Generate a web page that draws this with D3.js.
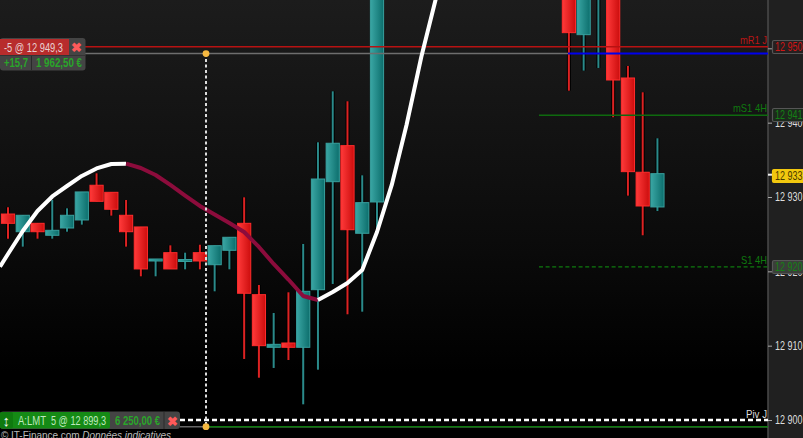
<!DOCTYPE html>
<html><head><meta charset="utf-8">
<script src="https://cdn.jsdelivr.net/npm/d3@7"></script>
<style>html,body{margin:0;padding:0;background:#000;overflow:hidden}svg{display:block}text{font-family:"Liberation Sans",Arial,sans-serif}</style>
</head><body><svg id="c" width="803" height="438"></svg>
<script>
// Prices are expressed as points above 12 900
const base = 12900;
const candleIndex = [0,1,2,3,4,5,6,7,8,9,10,11,12,13,14,15,16,17,18,19,20,21,22,23,24,25,38,39,40,41,42,43,44];
const opens  = [27.71,25.33,26.46,24.85,25.83,26.91,31.58,30.63,27.54,25.97,21.39,22.51,21.39,22.51,20.89,22.83,26.46,16.86,9.78,10.36,9.78,17.53,32.06,36.91,25.12,29.33,60,51.84,57.5,60,46.01,33.33,28.66];
const highs  = [28.62,27.54,26.46,29.60,28.48,30.68,33.19,30.63,29.60,25.97,21.66,23.50,22.51,23.58,23.45,24.58,29.96,18.16,14.40,17.18,23.68,37.36,44.22,42.88,32.92,62,60,60,60,60,47.63,44.09,37.90];
const lows   = [24.39,23.32,24.39,24.39,25.33,26.28,29.42,27.49,23.32,19.33,19.33,20.32,20.27,20.27,17.31,20.27,8.21,5.69,7.00,8.07,2.11,6.77,18.30,14.22,14.57,25.43,44.30,47.00,47.36,40.73,30.18,24.85,28.12];
const closes = [26.46,27.54,25.33,25.52,27.54,30.68,29.42,28.35,25.33,20.32,21.66,20.32,21.59,21.39,23.45,24.58,17.05,10.00,10.18,9.78,17.31,32.42,37.23,25.60,29.24,62,52.11,60,60,45.74,33.41,28.79,33.14];

const maIndex  = [-0.54,0,1,2,3,4,5,6,7,8,9,10,11,12,13,14,15,16,17,18,19,20,21,22,23,24,25,26,27,28,29];
const maValues = [20.62,22.33,25.43,28.12,30.07,31.48,32.83,33.84,34.44,34.48,33.90,32.96,31.62,30.20,28.79,27.65,26.50,25.29,23.28,20.99,18.90,16.68,16.14,17.22,18.43,20.18,25.29,31.62,39.69,48.84,56.78];
const maTurns  = [-0.54,8,21,29]; // rising, falling, rising

const axisTicks = [12900,12910,12920,12930,12940,12950];
const levelNames  = ["mR1 J","mS1 4H","S1 4H","Piv J"];
const levelPrices = [12950.2,12941.0,12920.6,12900.0];
const positionPrice = 12949.3, orderPrice = 12899.1, lastPrice = 12933;
const fmt = v => { const s = String(Math.floor(v)); return s.slice(0,2)+" "+s.slice(2); };

const svg = d3.select("#c");
const W=803,H=438,axisX=768;
const x = d3.scaleLinear().domain([0,1]).range([8,22.76]);
const y = d3.scaleLinear().domain([base,base+30]).range([420,197]);

const defs = svg.append("defs");
const bg = defs.append("linearGradient").attr("id","bg").attr("x1",0).attr("x2",0).attr("y1",0).attr("y2",1);
bg.append("stop").attr("offset",0).attr("stop-color","#1c1c1c");
bg.append("stop").attr("offset",.55).attr("stop-color","#0b0b0b");
bg.append("stop").attr("offset",.85).attr("stop-color","#000");
const grad=(id,a,b)=>{const g=defs.append("linearGradient").attr("id",id);g.append("stop").attr("offset",0).attr("stop-color",a);g.append("stop").attr("offset",1).attr("stop-color",b);};
grad("gr","#ff3a3a","#cc0d0d"); grad("gt","#3aa6a4","#0c6e6c");
defs.append("clipPath").attr("id","plot").append("rect").attr("width",axisX).attr("height",H);

svg.append("rect").attr("width",W).attr("height",H).attr("fill","url(#bg)");
svg.append("rect").attr("x",axisX).attr("width",W-axisX).attr("height",H).attr("fill","#202020");
svg.append("line").attr("x1",axisX).attr("x2",axisX).attr("y1",0).attr("y2",H).attr("stroke","#4a4a4a").attr("stroke-width",1.5);

const plot = svg.append("g").attr("clip-path","url(#plot)");
const data = candleIndex.map((i,k)=>({i,o:opens[k],h:highs[k],l:lows[k],c:closes[k],up:closes[k]>=opens[k]}));
const px = v => y(base+v);

const wick = plot.selectAll(".w").data(data).join("g");
wick.append("line").attr("x1",d=>x(d.i)).attr("x2",d=>x(d.i)).attr("y1",d=>px(d.h)).attr("y2",d=>px(d.l)).attr("stroke","#000").attr("stroke-width",4);
wick.append("line").attr("x1",d=>x(d.i)).attr("x2",d=>x(d.i)).attr("y1",d=>px(d.h)).attr("y2",d=>px(d.l)).attr("stroke",d=>d.up?"#2a8a8a":"#dd2222").attr("stroke-width",2);
plot.selectAll(".b").data(data).join("rect")
  .attr("x",d=>x(d.i)-6.6).attr("width",13.2)
  .attr("y",d=>px(Math.max(d.o,d.c))).attr("height",d=>Math.max(2,Math.abs(px(d.o)-px(d.c))))
  .attr("fill",d=>d.up?"url(#gt)":"url(#gr)")
  .attr("stroke",d=>d.up?"#38a09e":"#ff2c2c").attr("stroke-width",1);

// Levels
const L = (v,x0,col,w,dash)=>plot.append("line").attr("x1",x0).attr("x2",axisX).attr("y1",y(v)).attr("y2",y(v)).attr("stroke",col).attr("stroke-width",w).attr("stroke-dasharray",dash||null);
L(levelPrices[0],0,"#b81212",1.5);
plot.append("line").attr("x1",0).attr("x2",568).attr("y1",y(positionPrice)).attr("y2",y(positionPrice)).attr("stroke","#6e6e6e").attr("stroke-width",1.5);
L(positionPrice,568,"#0000ee",2);
L(levelPrices[1],539,"#0e6a0e",1.5);
L(levelPrices[2],539,"#0e7a0e",1.4,"4,2.6");
plot.append("line").attr("x1",180).attr("x2",axisX).attr("y1",y(orderPrice)).attr("y2",y(orderPrice)).attr("stroke","#666").attr("stroke-width",1.5);
L(orderPrice,206,"#0e7a0e",1.5);
L(levelPrices[3],180,"#fff",2.4,"5,3");

// Moving average
const maLine = d3.line().x(d=>x(d[0])).y(d=>px(d[1]));
const maPts = maIndex.map((m,k)=>[m,maValues[k]]);
[[0,"#fff"],[1,"#8c0c3c"],[2,"#fff"]].forEach(([s,col])=>{
  const seg = maPts.filter(p=>p[0]>=maTurns[s]&&p[0]<=maTurns[s+1]);
  plot.append("path").attr("d",maLine(seg)).attr("fill","none").attr("stroke",col).attr("stroke-width",4).attr("stroke-linejoin","round");
});

// Cursor
const cx=206;
plot.append("line").attr("x1",cx).attr("x2",cx).attr("y1",y(positionPrice)).attr("y2",y(orderPrice)).attr("stroke","#ddd").attr("stroke-width",2).attr("stroke-dasharray","3,2.5");
[positionPrice,orderPrice].forEach(v=>plot.append("circle").attr("cx",cx).attr("cy",y(v)).attr("r",3.4).attr("fill","#f5b840"));

// Level names
const names=[["#bb1515",0],["#0f7a0f",1],["#0f7a0f",2],["#ddd",3]];
const nameW=[27,34,26,21];
names.forEach(([col,k])=>plot.append("text").attr("x",767-nameW[k]).attr("y",y(levelPrices[k])-(k==3?2:3)).attr("font-size",11.5).attr("textLength",nameW[k]).attr("lengthAdjust","spacingAndGlyphs").attr("fill",col).text(levelNames[k]));

// Axis
const ax = svg.append("g").attr("transform",`translate(${axisX},0)`).call(d3.axisRight(y).tickValues(axisTicks).tickSize(4).tickPadding(3).tickFormat(fmt));
ax.select(".domain").remove();
ax.selectAll("line").attr("stroke","#aaa");
ax.selectAll("text").attr("fill","#ddd").attr("font-size",12).attr("font-family",'"Liberation Sans",Arial,sans-serif').attr("textLength",27.5).attr("lengthAdjust","spacingAndGlyphs");

// Price badges
const badge=(v,fill,stroke,col,yOff)=>{
  const g=svg.append("g").attr("transform",`translate(772.5,${Math.round(y(v))+yOff})`);
  g.append("rect").attr("y",-6.5).attr("width",32).attr("height",13).attr("rx",1.5).attr("fill",fill).attr("stroke",stroke).attr("stroke-width",1.2);
  g.append("text").attr("x",2.5).attr("y",4.2).attr("font-size",12).attr("textLength",27.5).attr("lengthAdjust","spacingAndGlyphs").attr("fill",col).text(fmt(v));
};
badge(levelPrices[0],"#262020","#565656","#d01515",0);
badge(levelPrices[1],"#1c2a1c","#565656","#158015",0);
badge(levelPrices[2],"#3a3f3a","#565656","#158015",0);
svg.append("line").attr("x1",768).attr("x2",773).attr("y1",y(lastPrice)).attr("y2",y(lastPrice)).attr("stroke","#eee").attr("stroke-width",2);
badge(lastPrice,"#f2c80f","#f2c80f","#4a3c00",1);

// Position tag
const fit=(sel,w)=>sel.attr("textLength",w).attr("lengthAdjust","spacingAndGlyphs");
const tag=svg.append("g");
tag.append("rect").attr("x",0).attr("y",38).attr("width",85.5).attr("height",32.5).attr("rx",3).attr("fill","#444");
tag.append("rect").attr("x",0).attr("y",39).attr("width",69).attr("height",16).attr("fill","#b82c2c");
tag.append("line").attr("x1",31.5).attr("x2",31.5).attr("y1",56).attr("y2",70).attr("stroke","#2a2a2a");
tag.append("line").attr("x1",0).attr("x2",85).attr("y1",55.5).attr("y2",55.5).attr("stroke","#333");
fit(tag.append("text").attr("x",4).attr("y",51.5).attr("font-size",12).attr("fill","#e8d0d0").text("-5 @ 12 949,3"),59);
tag.append("text").attr("x",76.5).attr("y",52).attr("text-anchor","middle").attr("font-size",13).attr("font-weight","bold").attr("fill","#ff5a5a").text("✖");
fit(tag.append("text").attr("x",4).attr("y",67).attr("font-size",12).attr("font-weight","bold").attr("fill","#2aa52a").text("+15,7"),24);
fit(tag.append("text").attr("x",36).attr("y",67).attr("font-size",12).attr("font-weight","bold").attr("fill","#2aa52a").text("1 962,50 €"),46);

// Order tag
const ord=svg.append("g");
ord.append("rect").attr("x",0).attr("y",411.5).attr("width",180).attr("height",17.5).attr("rx",3).attr("fill","#444");
ord.append("rect").attr("x",0).attr("y",412).attr("width",110).attr("height",16.5).attr("rx",2).attr("fill","#158a15");
ord.append("rect").attr("x",0).attr("y",412).attr("width",13).attr("height",16.5).attr("rx",2).attr("fill","#0f7a0f");
fit(ord.append("text").attr("x",18).attr("y",425).attr("font-size",12).attr("fill","#bfe8bf").text("A:LMT"),28);
fit(ord.append("text").attr("x",51).attr("y",425).attr("font-size",12).attr("fill","#bfe8bf").text("5 @ 12 899,3"),55);
fit(ord.append("text").attr("x",115).attr("y",425).attr("font-size",12).attr("font-weight","bold").attr("fill","#2aa52a").text("6 250,00 €"),45);
ord.append("line").attr("x1",164).attr("x2",164).attr("y1",412).attr("y2",429).attr("stroke","#2a2a2a");
ord.append("text").attr("x",172).attr("y",425.5).attr("text-anchor","middle").attr("font-size",13).attr("font-weight","bold").attr("fill","#ff5a5a").text("✖");
ord.append("text").attr("x",6.2).attr("y",426).attr("text-anchor","middle").attr("font-size",15).attr("font-weight","bold").attr("fill","#f0f8f0").text("↕");

// Footer
const ft=svg.append("text").attr("x",1).attr("y",439).attr("font-size",10).attr("fill","#bbb").attr("textLength",170).attr("lengthAdjust","spacing");
ft.append("tspan").text("© IT-Finance.com  ");
ft.append("tspan").attr("font-style","italic").text("Données indicatives");
</script></body></html>
